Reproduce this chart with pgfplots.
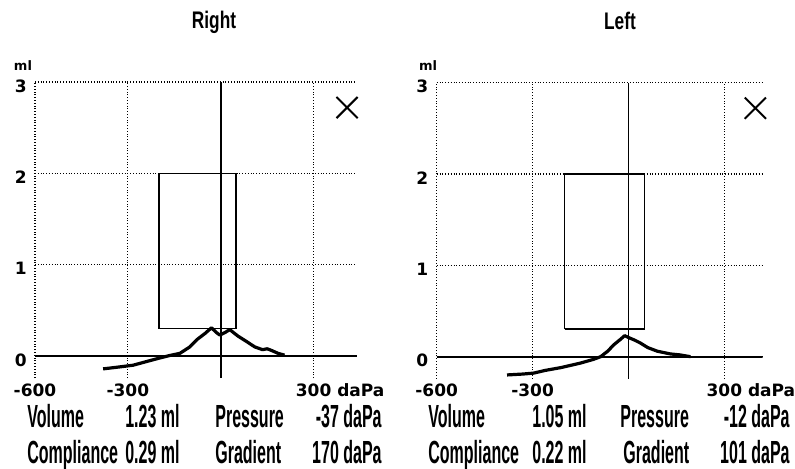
\documentclass[border=0pt]{standalone}
\usepackage{fontspec}
\setmainfont{Liberation Sans}
\newfontfamily\tickfont{DejaVu Sans}
\newfontfamily\narrowfont[FakeStretch=0.5]{Liberation Sans}
\newfontfamily\titlefont[FakeStretch=0.72]{Liberation Sans}
\usepackage{pgfplots}
\pgfplotsset{compat=1.18}

\pgfplotsset{tymp/.style={
  scale only axis, height=148pt,
  xmin=-600, ymin=-0.24, ymax=3,
  axis line style={draw=none},
  major tick length=0pt,
  xtick={-600,-300,300}, xticklabels={-600,-300,300\rlap{ daPa}},
  ytick={0,1,2,3}, yticklabels={0,1,2,3},
  grid=major,
  major grid style={densely dotted, line width=0.6pt, black},
  tick label style={font=\tickfont\bfseries\fontsize{8.5}{8.5}\selectfont},
  xticklabel style={inner sep=0pt, yshift=-2.5pt},
  yticklabel style={inner sep=0pt, xshift=-4pt, yshift=-2pt},
}}

\begin{document}
\begin{tikzpicture}
\path[use as bounding box] (0,0) rectangle (397.5pt,-234.5pt);

% right ear
\begin{axis}[tymp, width=161pt, xmax=440,
  at={(17.5pt,-189pt)}, anchor=south west]
\draw[black, line width=0.9pt] (axis cs:-600,0) -- (axis cs:440,0);
\draw[black, line width=0.9pt] (axis cs:0,-0.24) -- (axis cs:0,3);
\addplot[black, line width=0.8pt] coordinates {(-200,0.3) (-200,2) (50,2) (50,0.3) (-200,0.3)};
\addplot[black, line width=1.6pt, line join=round] coordinates {
  (-380,-0.14) (-330,-0.12) (-283,-0.10) (-240,-0.06) (-196,-0.02) (-160,0.01)
  (-132,0.03) (-100,0.10) (-77,0.18) (-50,0.25) (-30,0.31) (-15,0.26) (-3,0.23)
  (15,0.26) (29,0.29) (55,0.22) (83,0.16) (110,0.10) (135,0.07) (150,0.08)
  (165,0.06) (185,0.03) (206,0.01)};
\addplot[only marks, mark=x, mark size=7.5pt, mark options={line width=1pt}] coordinates {(408,2.72)};
\node[anchor=base, font=\tickfont\bfseries\fontsize{8.5}{8.5}\selectfont, yshift=2.5pt] at (axis cs:0,3) {226 Hz};
\end{axis}

% left ear
\begin{axis}[tymp, width=163pt, xmax=420,
  at={(218.35pt,-189.3pt)}, anchor=south west]
\draw[black, line width=0.9pt] (axis cs:-600,0) -- (axis cs:420,0);
\draw[black, line width=0.9pt] (axis cs:0,-0.24) -- (axis cs:0,3);
\addplot[black, line width=0.8pt] coordinates {(-200,0.3) (-200,2) (50,2) (50,0.3) (-200,0.3)};
\addplot[black, line width=1.6pt, line join=round] coordinates {
  (-380,-0.20) (-330,-0.19) (-297,-0.18) (-260,-0.15) (-212,-0.12) (-150,-0.07)
  (-110,-0.03) (-87,0.00) (-65,0.06) (-46,0.13) (-25,0.19) (-12,0.23) (0,0.21)
  (20,0.18) (37,0.15) (60,0.10) (90,0.06) (131,0.03) (160,0.02) (194,0.0)};
\addplot[only marks, mark=x, mark size=7.5pt, mark options={line width=1pt}] coordinates {(397,2.72)};
\node[anchor=base, font=\tickfont\bfseries\fontsize{8.5}{8.5}\selectfont, yshift=2.5pt] at (axis cs:0,3) {226 Hz};
\end{axis}

\begin{scope}[x=0.5pt, y=-0.5pt]
\node[anchor=base, font=\titlefont\bfseries\fontsize{12}{12}\selectfont] at (214,29) {Right};
\node[anchor=base, font=\titlefont\bfseries\fontsize{12}{12}\selectfont] at (620,30) {Left};
\node[anchor=base, font=\tickfont\bfseries\fontsize{6.5}{6.5}\selectfont] at (23,71) {ml};
\node[anchor=base, font=\tickfont\bfseries\fontsize{6.5}{6.5}\selectfont] at (428,71) {ml};
\begin{scope}[every node/.style={font=\narrowfont\bfseries\fontsize{16}{16}\selectfont, inner sep=0pt}]
\node[anchor=base west] at (27,427) {Volume};
\node[anchor=base east] at (180,427) {1.23 ml};
\node[anchor=base west] at (215,427) {Pressure};
\node[anchor=base east] at (382,427) {-37 daPa};
\node[anchor=base west] at (27,463) {Compliance};
\node[anchor=base east] at (180,463) {0.29 ml};
\node[anchor=base west] at (215,463) {Gradient};
\node[anchor=base east] at (382,463) {170 daPa};
\node[anchor=base west] at (428,427) {Volume};
\node[anchor=base east] at (587,427) {1.05 ml};
\node[anchor=base west] at (620,427) {Pressure};
\node[anchor=base east] at (790,427) {-12 daPa};
\node[anchor=base west] at (428,463) {Compliance};
\node[anchor=base east] at (587,463) {0.22 ml};
\node[anchor=base west] at (623,463) {Gradient};
\node[anchor=base east] at (790,463) {101 daPa};
\end{scope}
\end{scope}
\end{tikzpicture}
\end{document}
